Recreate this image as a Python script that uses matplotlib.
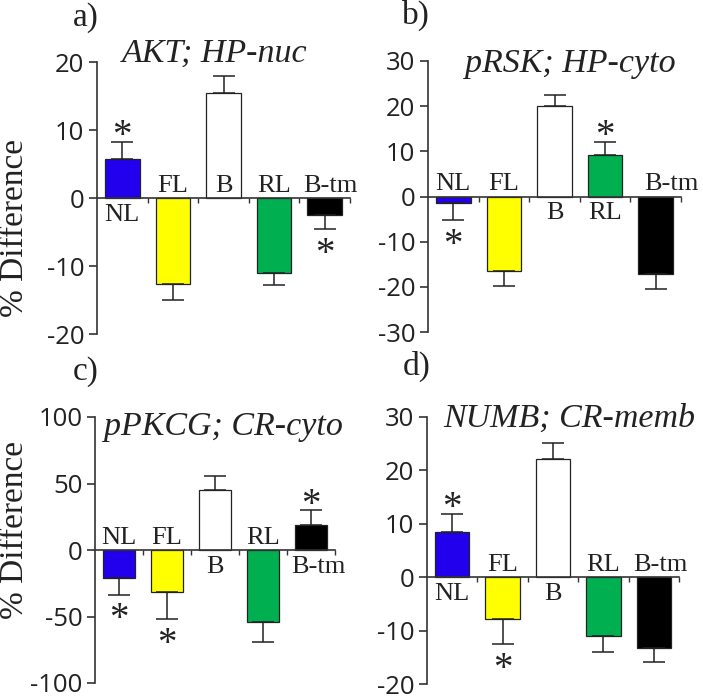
import matplotlib
matplotlib.use('Agg')
import matplotlib.pyplot as plt

plt.rcParams['axes.unicode_minus'] = False

groups = ['NL', 'FL', 'B', 'RL', 'B-tm']
colors = ['#2200EE', '#FFFF00', '#FFFFFF', '#00B050', '#000000']

# panel a: AKT; HP-nuc
a_vals = [5.8, -12.6, 15.5, -11.0, -2.5]
a_errs = [2.5, 2.4, 2.5, 1.8, 2.1]
a_star = [1, 0, 0, 0, 1]
# panel b: pRSK; HP-cyto
b_vals = [-1.5, -16.5, 20.0, 9.2, -17.2]
b_errs = [3.7, 3.3, 2.5, 2.8, 3.3]
b_star = [1, 0, 0, 1, 0]
# panel c: pPKCG; CR-cyto
c_vals = [-20.8, -31.8, 45.4, -54.4, 19.1]
c_errs = [12.7, 20.1, 10.0, 14.7, 10.6]
c_star = [1, 1, 0, 0, 1]
# panel d: NUMB; CR-memb
d_vals = [8.4, -7.9, 22.1, -11.0, -13.3]
d_errs = [3.4, 4.6, 3.1, 3.0, 2.6]
d_star = [1, 1, 0, 0, 0]

titles = ['AKT; HP-nuc', 'pRSK; HP-cyto', 'pPKCG; CR-cyto', 'NUMB; CR-memb']
letters = ['a)', 'b)', 'c)', 'd)']
ylims = [(-20, 20), (-30, 30), (-100, 100), (-20, 30)]
ysteps = [10, 10, 50, 10]

W, H = 703, 700
fig = plt.figure(figsize=(W / 100, H / 100), dpi=100)

# axes boxes in pixels: left, right, top, bottom
boxes = [(97, 350, 62, 334), (428, 681, 61, 332), (95, 335, 417, 683), (427, 679, 417, 684)]
# which side of zero each group label sits on (1 above, -1 below)
label_side = [[-1, 1, 1, 1, 1], [1, 1, -1, -1, 1], [1, 1, -1, 1, -1], [-1, 1, -1, 1, 1]]
label_shift = [0.12, 0.32, 0.15, 0.14]
title_pos = [(215, 62), (570, 72), (223, 435), (569, 427)]
letter_pos = [(73, 26), (402, 24), (73, 380), (403, 375)]
ylabel_pos = [(15, 228), (15, 530)]

serif = 'Liberation Serif'
sans = 'Open Sans'

panels = [(a_vals, a_errs, a_star), (b_vals, b_errs, b_star),
          (c_vals, c_errs, c_star), (d_vals, d_errs, d_star)]

for i, (vals, errs, stars) in enumerate(panels):
    l, r, t, b = boxes[i]
    ax = fig.add_axes([l / W, 1 - b / H, (r - l) / W, (b - t) / H])
    x = [k + 0.5 for k in range(len(groups))]
    lower = [0 if v > 0 else e for v, e in zip(vals, errs)]
    upper = [e if v > 0 else 0 for v, e in zip(vals, errs)]
    ax.bar(x, vals, width=0.68, color=colors, edgecolor='#222222', linewidth=0.9, zorder=2)
    ax.errorbar(x, vals, yerr=[lower, upper], fmt='none', ecolor='#222222',
                elinewidth=1.1, capsize=8, capthick=1.1, zorder=3)

    ax.set_xlim(0, 5)
    ax.set_ylim(*ylims[i])
    lo, hi = ylims[i]
    ax.set_yticks(list(range(lo, hi + 1, ysteps[i])))
    ax.set_xticks([1, 2, 3, 4, 5])
    ax.set_xticklabels([])
    for sp in ['top', 'right']:
        ax.spines[sp].set_visible(False)
    ax.spines['bottom'].set_position(('data', 0))
    for sp in ['left', 'bottom']:
        ax.spines[sp].set_color('#333333')
        ax.spines[sp].set_linewidth(1.2)
    ax.tick_params(axis='y', direction='out', length=6, width=1.2, color='#333333',
                   labelsize=18.5, pad=3, labelcolor='#222222')
    ax.tick_params(axis='x', direction='out', length=3.5, width=1.0, color='#333333')
    for lab in ax.get_yticklabels():
        lab.set_family(sans)
    ax.patch.set_alpha(0)

    for k, g in enumerate(groups):
        side = label_side[i][k]
        gx = x[k] + (label_shift[i] if g == 'B-tm' else 0)
        ax.annotate(g, (gx, 0), xytext=(0, 1 if side > 0 else -4), textcoords='offset points',
                    ha='center', va='bottom' if side > 0 else 'top',
                    fontsize=19, family=serif, color='#222222', zorder=4)
        if stars[k]:
            end = vals[k] + (errs[k] if vals[k] > 0 else -errs[k])
            ax.annotate('*', (x[k], end), xytext=(0, -3 if vals[k] > 0 else -25),
                        textcoords='offset points', ha='center', va='baseline',
                        fontsize=28, family=serif, color='#222222')

    tx, ty = title_pos[i]
    fig.text(tx / W, 1 - ty / H, titles[i], ha='center', va='baseline',
             fontsize=24.5, family=serif, style='italic', color='#222222')
    lx, ly = letter_pos[i]
    fig.text(lx / W, 1 - ly / H, letters[i], ha='left', va='baseline',
             fontsize=24, family=serif, color='#222222')

for yx, yy in ylabel_pos:
    fig.text(yx / W, 1 - yy / H, '% Difference', rotation=90, ha='center', va='center',
             fontsize=24, family=serif, color='#222222')

fig.savefig('out.png', dpi=100)
